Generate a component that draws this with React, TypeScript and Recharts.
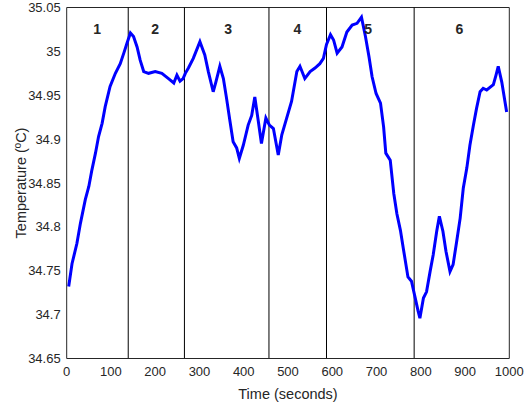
import { Label, Line, LineChart, ReferenceDot, ReferenceLine, XAxis, YAxis } from "recharts";

// time (s) and temperature (°C)
const TIME = [
  4.5, 12, 23, 31, 42, 50, 57, 65, 72, 80, 87, 98, 110, 121, 129, 136, 144, 151, 159, 166,
  174, 185, 200, 215, 230, 242, 249, 256, 263, 268, 275, 286, 301, 312, 320, 331, 337, 346,
  354, 361, 369, 376, 384, 390, 399, 410, 418, 425, 433, 440, 450, 458, 467, 478, 486, 497,
  508, 520, 527, 538, 550, 561, 572, 580, 587, 596, 603, 611, 622, 633, 645, 656, 666, 675,
  683, 690, 699, 709, 716, 721, 731, 739, 746, 754, 761, 771, 779, 787, 794, 798, 806, 813,
  821, 828, 836, 842, 850, 857, 866, 873, 881, 889, 896, 904, 911, 919, 926, 934, 941, 949,
  964, 970, 975, 983, 994,
];
const TEMP = [
  34.732, 34.758, 34.781, 34.804, 34.831, 34.846, 34.865, 34.884, 34.903, 34.918, 34.937,
  34.96, 34.975, 34.986, 34.998, 35.009, 35.021, 35.017, 35.005, 34.99, 34.977, 34.975,
  34.977, 34.975, 34.969, 34.964, 34.973, 34.966, 34.969, 34.975, 34.981, 34.992, 35.011,
  34.996, 34.977, 34.954, 34.965, 34.983, 34.969, 34.947, 34.92, 34.897, 34.89, 34.878,
  34.893, 34.916, 34.927, 34.948, 34.92, 34.895, 34.924, 34.916, 34.912, 34.882, 34.905,
  34.924, 34.943, 34.977, 34.983, 34.969, 34.977, 34.981, 34.986, 34.992, 35.008, 35.019,
  35.013, 34.998, 35.005, 35.022, 35.03, 35.032, 35.039, 35.017, 34.994, 34.971, 34.952,
  34.941, 34.914, 34.884, 34.876, 34.838, 34.815, 34.796, 34.774, 34.743, 34.738, 34.72,
  34.704, 34.696, 34.719, 34.726, 34.749, 34.768, 34.795, 34.812, 34.795, 34.772, 34.749,
  34.757, 34.783, 34.81, 34.844, 34.867, 34.893, 34.916, 34.935, 34.954, 34.958, 34.956,
  34.962, 34.973, 34.983, 34.965, 34.931,
];

const PHASE_BOUNDS = [139, 266, 457, 587, 785];
const PHASE_LABELS = ["1", "2", "3", "4", "5", "6"];
const PHASE_LABEL_X = [69, 200, 365, 521, 681, 887];
const PHASE_LABEL_Y = 35.0255;

const X_TICKS = [0, 100, 200, 300, 400, 500, 600, 700, 800, 900, 1000];
const Y_TICKS = [34.65, 34.7, 34.75, 34.8, 34.85, 34.9, 34.95, 35, 35.05];

const rows = TIME.map((t, i) => ({ t, temp: TEMP[i] }));

const FONT = '"Liberation Sans", Arial, Helvetica, sans-serif';
const INK = "#262626";

export default function App() {
  return (
    <div style={{ position: "absolute", left: 0, top: 0, background: "#fff", fontFamily: FONT }}>
      <LineChart width={531} height={405} data={rows} margin={{ top: 7.5, right: 21.7, bottom: 0, left: 0 }}>
        <XAxis
          type="number"
          dataKey="t"
          domain={[0, 1000]}
          ticks={X_TICKS}
          interval={0}
          height={46.5}
          tickLine={false}
          tickSize={4}
          tickMargin={4}
          stroke={INK}
          tick={{ fill: INK, fontSize: 13, fontFamily: FONT }}
        >
          <Label
            content={(p: any) => {
              const vb = p.viewBox;
              return (
                <text
                  x={vb.x + vb.width / 2}
                  y={394}
                  textAnchor="middle"
                  dominantBaseline="central"
                  fill={INK}
                  fontSize={14.5}
                  fontFamily={FONT}
                >
                  Time (seconds)
                </text>
              );
            }}
          />
        </XAxis>
        <YAxis
          type="number"
          domain={[34.65, 35.05]}
          ticks={Y_TICKS}
          interval={0}
          width={66.7}
          tickLine={false}
          tickSize={4}
          tickMargin={2}
          stroke={INK}
          allowDataOverflow
          tickFormatter={(v: number) => String(Number(v.toFixed(2)))}
          tick={{ fill: INK, fontSize: 13, fontFamily: FONT }}
        >
          <Label
            content={(p: any) => {
              const vb = p.viewBox;
              const cy = vb.y + vb.height / 2;
              return (
                <text
                  x={21}
                  y={cy}
                  transform={`rotate(-90, 21, ${cy})`}
                  textAnchor="middle"
                  dominantBaseline="central"
                  fill={INK}
                  fontSize={14.5}
                  fontFamily={FONT}
                >
                  Temperature (ºC)
                </text>
              );
            }}
          />
        </YAxis>
        <ReferenceLine y={35.05} stroke={INK} strokeWidth={1} />
        <ReferenceLine x={1000} stroke={INK} strokeWidth={1} />
        {PHASE_BOUNDS.map((x) => (
          <ReferenceLine key={x} x={x} stroke="#000" strokeWidth={1} />
        ))}
        <Line
          type="linear"
          dataKey="temp"
          stroke="#0000ff"
          strokeWidth={3}
          dot={false}
          isAnimationActive={false}
        />
        {PHASE_LABELS.map((lab, i) => (
          <ReferenceDot
            key={lab}
            x={PHASE_LABEL_X[i]}
            y={PHASE_LABEL_Y}
            r={0}
            fill="none"
            stroke="none"
            label={{ value: lab, position: "center", fill: INK, fontSize: 14, fontWeight: 700, fontFamily: FONT }}
          />
        ))}
      </LineChart>
    </div>
  );
}
